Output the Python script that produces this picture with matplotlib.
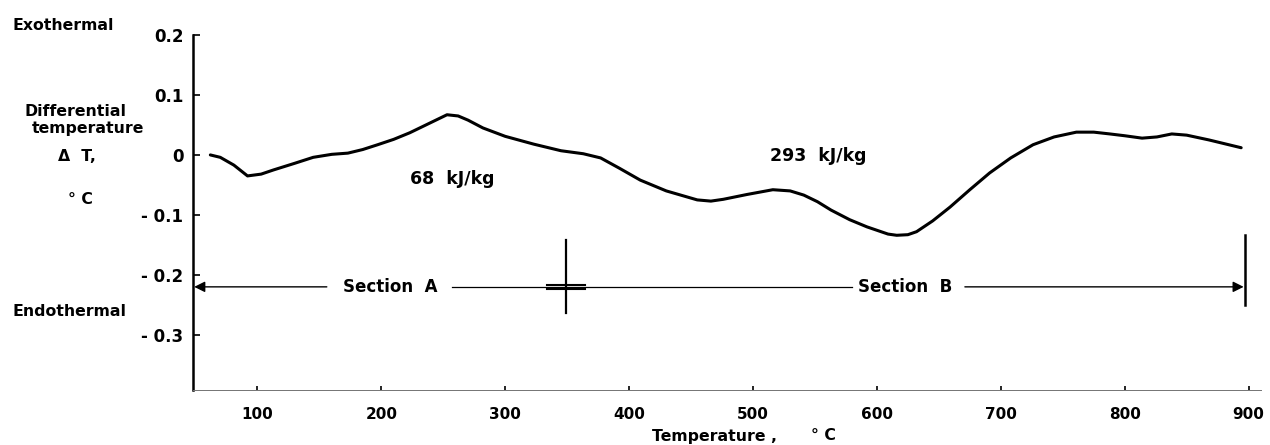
import numpy as np
import matplotlib.pyplot as plt

plt.rcParams['font.family'] = ['DejaVu Sans']
plt.rcParams['font.weight'] = 'bold'

# DTA curve
temp = [62, 70, 81, 92, 103, 113, 130, 145, 160, 173, 185, 197, 210, 223, 238,
        253, 262, 270, 282, 300, 323, 345, 363, 377, 392, 409, 430, 455, 466, 476,
        495, 516, 530, 541, 552, 563, 578, 592, 609, 616, 625, 632, 645, 659, 675,
        691, 708, 726, 743, 761, 775, 788, 800, 814, 826, 838, 850, 868, 882, 894]
dT = [0.0, -0.004, -0.017, -0.035, -0.032, -0.025, -0.014, -0.004, 0.001, 0.003,
      0.009, 0.017, 0.026, 0.037, 0.052, 0.067, 0.065, 0.058, 0.045, 0.031,
      0.018, 0.007, 0.002, -0.005, -0.022, -0.042, -0.060, -0.075, -0.077, -0.074,
      -0.066, -0.058, -0.060, -0.067, -0.078, -0.092, -0.108, -0.120, -0.132, -0.134,
      -0.133, -0.128, -0.110, -0.087, -0.058, -0.030, -0.005, 0.017, 0.030, 0.038,
      0.038, 0.035, 0.032, 0.028, 0.030, 0.035, 0.033, 0.025, 0.018, 0.012]

xticks = [100, 200, 300, 400, 500, 600, 700, 800, 900]
yticks = [-0.3, -0.2, -0.1, 0, 0.1, 0.2]
ytick_labels = ['- 0.3', '- 0.2', '- 0.1', '0', '0.1', '0.2']

section_y = -0.22
split_t = 349
end_t = 897

W, H = 1270, 445
fig = plt.figure(figsize=(W / 100, H / 100), dpi=100)

def px(x, y):
    return x / W, 1 - y / H

# axes placed so the spine and ticks land where the scan has them
ax = fig.add_axes([193 / W, 55 / H, (1261 - 193) / W, (390 - 35) / H])
ax.set_xlim(48, 910)
ax.set_ylim(-0.392, 0.2)

ax.plot(temp, dT, color='black', lw=2.2, solid_capstyle='round')

for s in ['top', 'right']:
    ax.spines[s].set_visible(False)
ax.spines['left'].set_linewidth(1.8)
ax.spines['bottom'].set_linewidth(0.7)
ax.spines['bottom'].set_color('0.45')

ax.set_xticks(xticks)
ax.set_xticklabels([str(t) for t in xticks])
ax.set_yticks(yticks)
ax.set_yticklabels(ytick_labels)
ax.tick_params(axis='x', direction='in', length=3, width=1.2, labelsize=11, pad=12)
ax.tick_params(axis='y', direction='in', length=5, width=1.2, labelsize=12, pad=7)

# section markers
ax.annotate('', xy=(49, section_y), xytext=(156, section_y),
            arrowprops=dict(arrowstyle='-|>', color='black', lw=1.0,
                            mutation_scale=16, shrinkA=0, shrinkB=0))
ax.plot([257, 580], [section_y, section_y], color='black', lw=0.9)
ax.annotate('', xy=(end_t - 1, section_y), xytext=(671, section_y),
            arrowprops=dict(arrowstyle='-|>', color='black', lw=1.0,
                            mutation_scale=16, shrinkA=0, shrinkB=0))
ax.plot([split_t, split_t], [-0.142, -0.263], color='black', lw=1.6)
ax.plot([334, 364], [section_y + 0.003, section_y + 0.003], color='black', lw=1.5)
ax.plot([334, 364], [section_y - 0.003, section_y - 0.003], color='black', lw=1.5)
ax.plot([end_t, end_t], [-0.133, -0.25], color='black', lw=1.8)

ax.text(207, section_y, 'Section  A', ha='center', va='center', fontsize=12)
ax.text(623, section_y, 'Section  B', ha='center', va='center', fontsize=12)
ax.text(257, -0.04, '68  kJ/kg', ha='center', va='center', fontsize=12.5)
ax.text(553, -0.002, '293  kJ/kg', ha='center', va='center', fontsize=12.5)

# left side labels
fig.text(*px(13, 25), 'Exothermal', ha='left', va='center', fontsize=11.3)
fig.text(*px(75, 112), 'Differential', ha='center', va='center', fontsize=11.3)
fig.text(*px(88, 128), 'temperature', ha='center', va='center', fontsize=11.3)
fig.text(*px(77, 157), '\u0394  T,', ha='center', va='center', fontsize=11.3)
fig.text(*px(80, 200), '\u00b0 C', ha='center', va='center', fontsize=11.3)
fig.text(*px(13, 312), 'Endothermal', ha='left', va='center', fontsize=11.3)

# axis title
fig.text(*px(714, 437), 'Temperature ,', ha='center', va='center', fontsize=11.3)
fig.text(*px(823, 435), '\u00b0 C', ha='center', va='center', fontsize=11.3)

fig.savefig('out.png', dpi=100)
